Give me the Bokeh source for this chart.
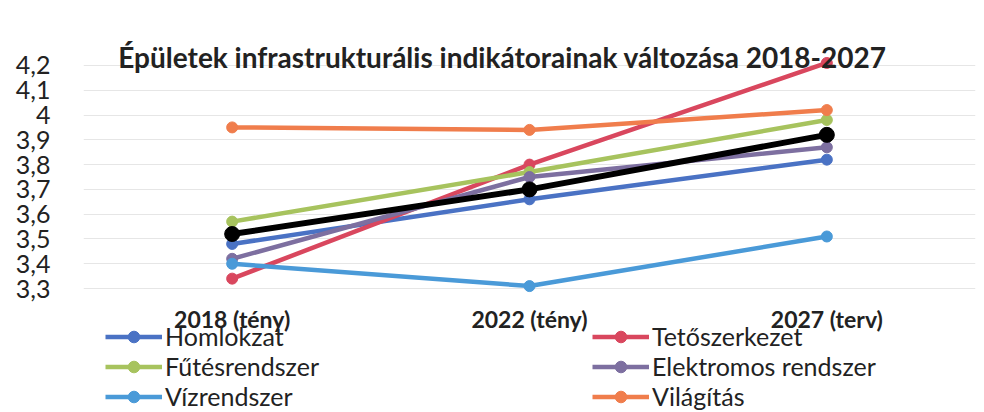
from bokeh.plotting import figure
from bokeh.models import (ColumnDataSource, FixedTicker, CustomJSTickFormatter,
                          Legend, LegendItem, Label)
from bokeh.core.properties import value
from bokeh.embed import file_html
from bokeh.resources import INLINE

# Survey periods
periods = ["2018 (tény)", "2022 (tény)", "2027 (terv)"]

# Indicator values per building component
homlokzat = [3.48, 3.66, 3.82]
tetoszerkezet = [3.34, 3.80, 4.21]
futesrendszer = [3.57, 3.77, 3.98]
elektromos = [3.42, 3.75, 3.87]
vizrendszer = [3.40, 3.31, 3.51]
vilagitas = [3.95, 3.94, 4.02]
atlag = [3.52, 3.70, 3.92]

y_ticks = [3.3, 3.4, 3.5, 3.6, 3.7, 3.8, 3.9, 4.0, 4.1, 4.2]
y_min, y_max = y_ticks[0], y_ticks[-1]

series = [
    ("Homlokzat", homlokzat, "#4a72c4"),
    ("Tetőszerkezet", tetoszerkezet, "#d9475e"),
    ("Fűtésrendszer", futesrendszer, "#a7c35e"),
    ("Elektromos rendszer", elektromos, "#7d6fa0"),
    ("Vízrendszer", vizrendszer, "#4a9ad8"),
    ("Világítás", vilagitas, "#f07d4c"),
]

FONT = "Lato"
TEXT = "#222222"

# the plotting frame spans the full height so that the period labels,
# the legend and the title can all sit inside it
p = figure(width=984, height=412, x_range=periods, y_range=(2.80, 4.462),
           output_backend="svg", toolbar_location=None,
           min_border_left=83, min_border_right=9,
           min_border_top=0, min_border_bottom=0)
p.outline_line_color = None
p.background_fill_color = "white"
p.border_fill_color = "white"
p.xaxis.visible = False

p.yaxis.ticker = FixedTicker(ticks=y_ticks)
p.yaxis.formatter = CustomJSTickFormatter(code="""
    const s = tick.toFixed(1);
    return s.endsWith('.0') ? s.slice(0, -2) : s.replace('.', ',');
""")
p.yaxis.axis_line_color = None
p.yaxis.major_tick_line_color = None
p.yaxis.minor_tick_line_color = None
p.yaxis.major_label_text_font = FONT
p.yaxis.major_label_text_color = TEXT
p.yaxis.major_label_text_font_size = "25px"
p.yaxis.major_label_standoff = 27

p.xgrid.grid_line_color = None
p.ygrid.ticker = FixedTicker(ticks=y_ticks)
p.ygrid.grid_line_color = "#e6e6e6"
p.ygrid.grid_line_width = 1

# period labels under the lowest grid line
p.text(x=periods, y=[y_min] * len(periods), text=periods, y_offset=16,
       text_font=value(FONT), text_font_size="23px", text_font_style="bold",
       text_color=TEXT, text_align="center", text_baseline="top")

items = {}
for name, vals, color in series:
    src = ColumnDataSource(dict(x=periods, y=vals))
    ln = p.line("x", "y", source=src, line_color=color, line_width=4.5)
    sc = p.scatter("x", "y", source=src, size=11, fill_color=color,
                   line_color=color)
    items[name] = LegendItem(label=name, renderers=[ln, sc])

# average line, drawn on top
src_avg = ColumnDataSource(dict(x=periods, y=atlag))
p.line("x", "y", source=src_avg, line_color="black", line_width=6)
p.scatter("x", "y", source=src_avg, size=15, fill_color="black",
          line_color="black")

def make_legend(names, x):
    lg = Legend(items=[items[n] for n in names], location=(x, 1),
                orientation="vertical", padding=0, margin=0, spacing=0,
                glyph_width=57, glyph_height=29, label_height=29,
                label_standoff=3, label_text_font=FONT,
                label_text_font_size="25px", label_text_color=TEXT,
                background_fill_alpha=0, border_line_color=None)
    p.add_layout(lg, "center")

make_legend(["Homlokzat", "Fűtésrendszer", "Vízrendszer"], 22)
make_legend(["Tetőszerkezet", "Elektromos rendszer", "Világítás"], 509)

# chart title
p.add_layout(Label(x=1.5, y=y_max, x_offset=-27, y_offset=8,
                   text="Épületek infrastrukturális indikátorainak változása 2018-2027",
                   text_font=FONT, text_font_size="28px", text_font_style="bold",
                   text_color=TEXT, text_align="center", text_baseline="alphabetic"))

open("out.html", "w").write(file_html(p, INLINE))
